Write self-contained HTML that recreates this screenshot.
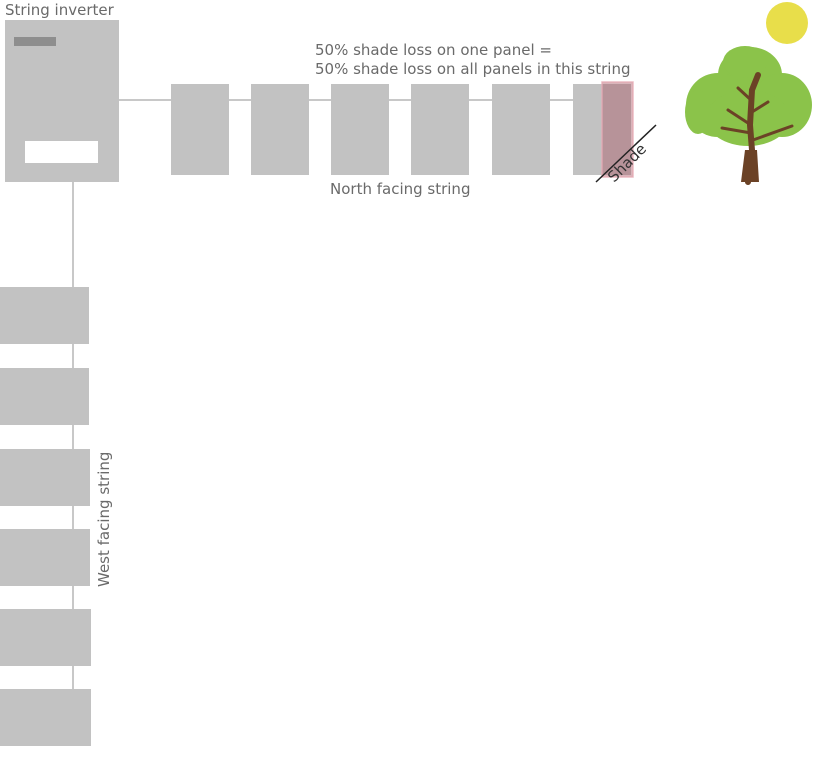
<!DOCTYPE html>
<html><head><style>body{margin:0;background:#fff}svg{display:block}text{font-family:"DejaVu Sans","Liberation Sans",sans-serif;fill:#6a6a6a;font-size:15px}</style></head>
<body>
<svg width="829" height="775" viewBox="0 0 829 775">
<line x1="119" y1="100" x2="573" y2="100" stroke="#c8c8c8" stroke-width="2"/>
<line x1="73" y1="182" x2="73" y2="690" stroke="#c8c8c8" stroke-width="2"/>
<text x="5" y="15">String inverter</text>
<rect x="5" y="20" width="114" height="162" fill="#c2c2c2"/>
<rect x="14" y="37" width="42" height="9" fill="#8e8e8e"/>
<rect x="25" y="141" width="73" height="22" fill="#fff"/>
<g fill="#c2c2c2">
<rect x="171" y="84" width="58" height="91"/>
<rect x="251" y="84" width="58" height="91"/>
<rect x="331" y="84" width="58" height="91"/>
<rect x="411" y="84" width="58" height="91"/>
<rect x="492" y="84" width="58" height="91"/>
<rect x="573" y="84" width="58" height="91"/>
<rect x="0" y="287" width="89" height="57"/>
<rect x="0" y="368" width="89" height="57"/>
<rect x="0" y="449" width="90" height="57"/>
<rect x="0" y="529" width="90" height="57"/>
<rect x="0" y="609" width="91" height="57"/>
<rect x="0" y="689" width="91" height="57"/>
</g>
<rect x="602" y="82" width="31" height="95" fill="rgba(170,90,105,0.45)" stroke="rgba(230,170,180,0.8)" stroke-width="1.5"/>
<line x1="596" y1="182" x2="656" y2="125" stroke="#222" stroke-width="1.5"/>
<text transform="translate(614,183) rotate(-45)" style="fill:#333">Shade</text>
<text x="315" y="55">50% shade loss on one panel =</text>
<text x="315" y="74">50% shade loss on all panels in this string</text>
<text x="330" y="194">North facing string</text>
<text transform="translate(109,587) rotate(-90)">West facing string</text>
<circle cx="787" cy="23" r="21" fill="#e8de4a"/>
<g fill="#8bc34a">
<ellipse cx="750" cy="75" rx="32" ry="28"/>
<ellipse cx="718" cy="105" rx="32" ry="32"/>
<ellipse cx="782" cy="105" rx="30" ry="32"/>
<ellipse cx="748" cy="118" rx="42" ry="28"/>
<ellipse cx="745" cy="62" rx="22" ry="16"/>
<ellipse cx="698" cy="112" rx="13" ry="22"/>
</g>
<g stroke="#6b4226" fill="none" stroke-linecap="round">
<path d="M748 182 L752 150 L750 125 L752 90 L758 75" stroke-width="6"/>
<path d="M751 125 L728 110 M752 112 L768 102 M751 100 L738 88 M753 140 L792 126 M751 133 L722 128" stroke-width="3"/>
</g>
<path d="M741 182 L745 150 L757 150 L759 182 Z" fill="#6b4226"/>
</svg>
</body></html>
